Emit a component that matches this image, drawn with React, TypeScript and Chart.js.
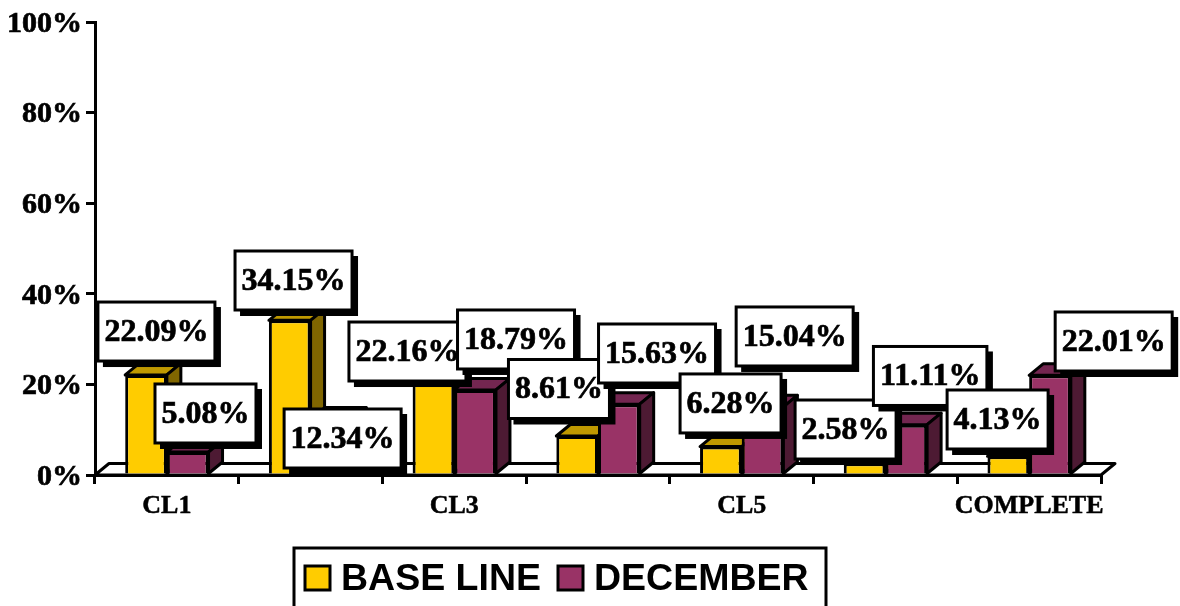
import React, { useEffect, useRef } from "react";
import { Chart, registerables } from "chart.js";

Chart.register(...registerables);

const categories = ["CL1", "CL2", "CL3", "CL4", "CL5", "CL6", "COMPLETE"];
const baseLine = [22.09, 34.15, 22.16, 8.61, 6.28, 2.58, 4.13];
const december = [5.08, 12.34, 18.79, 15.63, 15.04, 11.11, 22.01];

// Hand-placed data label offsets from each bar's top centre, per series.
const baseNudges = [[10.4, -43.4], [3.8, -39.8], [-26, -23.1], [-18.2, -47], [9.7, -43.1], [-19, -33.8], [-10.7, -36.8]];
const decNudges = [[17.8, -38.5], [11.2, 19.4], [40.9, -50.4], [38.2, -50.7], [32.1, -70.4], [23.9, -48.7], [63.7, -33.8]];

const shades = [
  { front: "#FFCC00", top: "#BF9900", side: "#806600" },
  { front: "#993366", top: "#732650", side: "#4D1A33" },
];
const DX = 14;
const DY = 11.5;
const LINE = 3;
const SERIF = "'Liberation Serif', serif";
const SANS = "'Liberation Sans', sans-serif";

const poly = (ctx: CanvasRenderingContext2D, pts: number[][], fill: string) => {
  ctx.beginPath();
  pts.forEach(([x, y], i) => (i ? ctx.lineTo(x, y) : ctx.moveTo(x, y)));
  ctx.closePath();
  ctx.fillStyle = fill;
  ctx.fill();
  ctx.stroke();
};

const depthPlugin = {
  id: "depth",
  beforeDatasetsDraw(chart: any) {
    const { ctx, chartArea: a } = chart;
    ctx.save();
    ctx.strokeStyle = "#000";
    ctx.lineWidth = LINE;
    ctx.lineJoin = "round";
    poly(ctx, [[a.left, a.bottom], [a.left + DX, a.bottom - DY], [a.right + DX, a.bottom - DY], [a.right, a.bottom]], "#fff");
    chart.data.datasets.forEach((_: any, d: number) => {
      chart.getDatasetMeta(d).data.forEach((bar: any) => {
        const l = bar.x - bar.width / 2;
        const r = bar.x + bar.width / 2;
        const t = bar.y;
        const b = bar.base;
        poly(ctx, [[l, t], [l + DX, t - DY], [r + DX, t - DY], [r, t]], shades[d].top);
        poly(ctx, [[r, t], [r + DX, t - DY], [r + DX, b - DY], [r, b]], shades[d].side);
      });
    });
    ctx.restore();
  },
};

const labelPlugin = {
  id: "boxedLabels",
  afterDatasetsDraw(chart: any) {
    const { ctx } = chart;
    const nudges = [baseNudges, decNudges];
    ctx.save();
    ctx.font = `bold 32px ${SERIF}`;
    ctx.textAlign = "center";
    ctx.textBaseline = "middle";
    categories.forEach((_, i) => {
      chart.data.datasets.forEach((ds: any, d: number) => {
        const bar = chart.getDatasetMeta(d).data[i];
        const text = `${ds.data[i].toFixed(2)}%`;
        const w = ctx.measureText(text).width + 13;
        const h = 59;
        const cx = bar.x + nudges[d][i][0];
        const cy = bar.y + nudges[d][i][1];
        ctx.fillStyle = "#000";
        ctx.fillRect(cx - w / 2 + 5, cy - h / 2 + 5, w + 1, h + 1);
        ctx.fillStyle = "#fff";
        ctx.strokeStyle = "#000";
        ctx.lineWidth = LINE;
        ctx.fillRect(cx - w / 2, cy - h / 2, w, h);
        ctx.strokeRect(cx - w / 2, cy - h / 2, w, h);
        ctx.fillStyle = "#000";
        ctx.lineWidth = 0.7;
        ctx.fillText(text, cx, cy + 1);
        ctx.strokeText(text, cx, cy + 1);
      });
    });
    ctx.restore();
  },
};

const legendPlugin = {
  id: "boxedLegend",
  afterDraw(chart: any) {
    const { ctx } = chart;
    ctx.save();
    ctx.strokeStyle = "#000";
    ctx.lineWidth = LINE;
    ctx.strokeRect(294, 548, 532, 70);
    ctx.font = `bold 37.5px ${SANS}`;
    ctx.textAlign = "left";
    ctx.textBaseline = "middle";
    const starts = [305, 558];
    chart.data.datasets.forEach((ds: any, d: number) => {
      ctx.fillStyle = ds.backgroundColor;
      ctx.lineWidth = LINE;
      ctx.fillRect(starts[d], 566, 25, 24);
      ctx.strokeRect(starts[d], 566, 25, 24);
      ctx.fillStyle = "#000";
      ctx.fillText(ds.label, starts[d] + 36, 579.5);
    });
    ctx.restore();
  },
};

export default function App() {
  const ref = useRef<HTMLCanvasElement>(null);
  useEffect(() => {
    const chart = new Chart(ref.current as HTMLCanvasElement, {
      type: "bar",
      data: {
        labels: categories,
        datasets: [
          { label: "BASE LINE", data: baseLine, backgroundColor: shades[0].front, borderColor: "#000", borderWidth: LINE },
          { label: "DECEMBER", data: december, backgroundColor: shades[1].front, borderColor: "#000", borderWidth: LINE },
        ],
      },
      options: {
        animation: false,
        responsive: false,
        layout: { padding: { top: 22, right: 79, left: 0, bottom: 0 } },
        datasets: { bar: { barPercentage: 1, categoryPercentage: 0.58 } },
        plugins: { legend: { display: false }, tooltip: { enabled: false } },
        scales: {
          x: {
            afterFit: (s: any) => { s.height = 131; },
            border: { color: "#000", width: LINE },
            grid: { drawOnChartArea: false, tickLength: 9, tickColor: "#000", lineWidth: LINE },
            ticks: {
              autoSkip: false,
              maxRotation: 0,
              color: "#000",
              padding: 7,
              textStrokeColor: "#000",
              textStrokeWidth: 0.5,
              font: { family: SERIF, weight: "bold", size: 26 },
              callback: (_v: any, i: number) => (i % 2 === 0 ? categories[i] : ""),
            },
          },
          y: {
            min: 0,
            max: 100,
            afterFit: (s: any) => { s.width = 95; },
            border: { color: "#000", width: LINE },
            grid: { drawOnChartArea: false, tickLength: 9, tickColor: "#000", lineWidth: LINE },
            ticks: {
              stepSize: 20,
              color: "#000",
              padding: 4,
              labelOffset: 2,
              textStrokeColor: "#000",
              textStrokeWidth: 0.7,
              font: { family: SERIF, weight: "bold", size: 30 },
              callback: (v: any) => `${v}%`,
            },
          },
        },
      },
      plugins: [depthPlugin, labelPlugin, legendPlugin],
    } as any);
    return () => chart.destroy();
  }, []);
  return (
    <canvas
      ref={ref}
      width={1180}
      height={606}
      style={{ position: "absolute", left: 0, top: 0, display: "block" }}
    />
  );
}
